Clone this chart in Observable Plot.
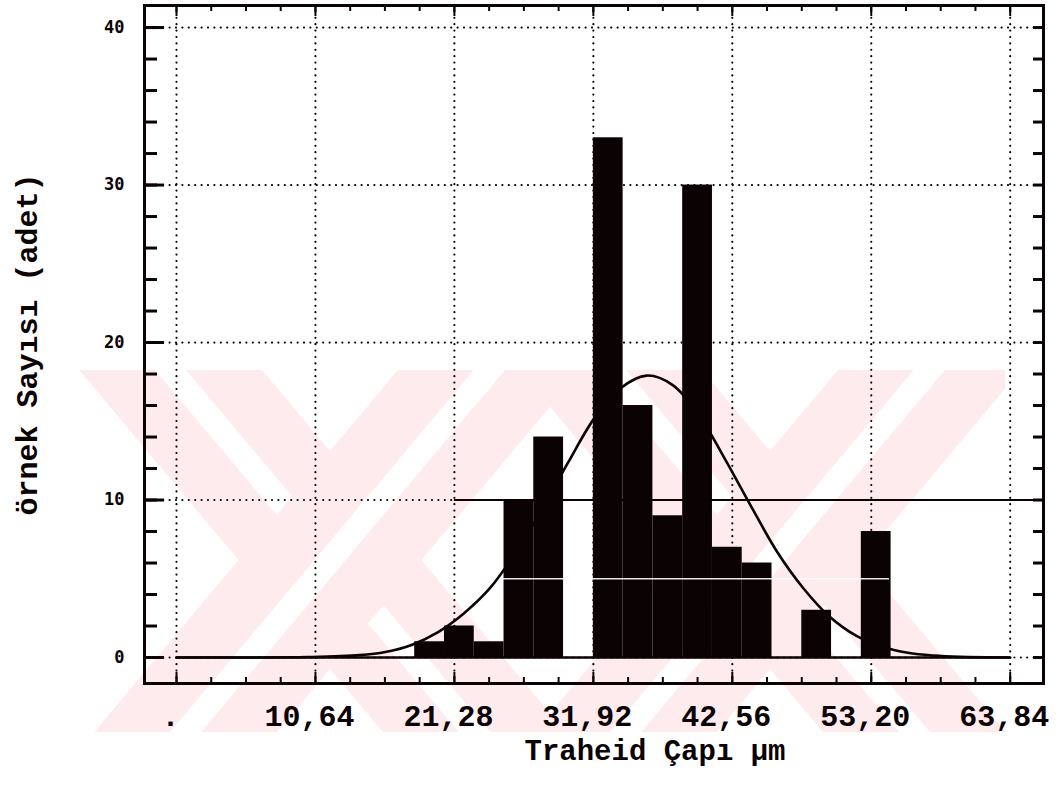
<!DOCTYPE html>
<html>
<head>
<meta charset="utf-8">
<script src="https://cdn.jsdelivr.net/npm/d3@7"></script>
<script src="https://cdn.jsdelivr.net/npm/@observablehq/plot@0.6"></script>
<style>
  html, body { margin: 0; padding: 0; background: #ffffff; }
  #wrap { position: relative; width: 1060px; height: 789px; overflow: hidden; }
  #wm { position: absolute; left: 0; top: 0; }
  #chart { position: absolute; left: 0; top: 0; }
</style>
</head>
<body>
<div id="wrap">
  <svg id="wm" width="1060" height="789"></svg>
  <div id="chart"></div>
</div>
<script>
// ---- data ----
const binWidth = 2.28;
const binLeft = [18.24, 20.52, 22.80, 25.08, 27.36, 29.64, 31.92, 34.20, 36.48, 38.76, 41.04, 43.32, 45.60, 47.88, 50.16, 52.44];
const counts  = [1, 2, 1, 10, 14, 0, 33, 16, 9, 30, 7, 6, 0, 3, 0, 8];

// fitted normal curve
const curveX = [0, 6, 10, 14, 16, 18, 20, 22, 24, 26, 28, 30, 32, 34, 36, 38, 40, 42, 44, 46, 48, 50, 52, 54, 56, 58, 60, 63.84];
const curveY = [0, 0, 0.03, 0.15, 0.35, 0.8, 1.6, 2.8, 4.4, 6.7, 9.4, 12.4, 15.2, 17.1, 17.9, 17.3, 15.4, 12.6, 9.6, 6.7, 4.4, 2.6, 1.4, 0.7, 0.3, 0.12, 0.04, 0];

const xTicks = [0, 10.64, 21.28, 31.92, 42.56, 53.20, 63.84];
const xTickLabels = [".", "10,64", "21,28", "31,92", "42,56", "53,20", "63,84"];
const xMinor = d3.range(0, 25).map(k => +(k * 2.66).toFixed(2));
const yTicks = [0, 10, 20, 30, 40];
const yTickLabels = ["0", "10", "20", "30", "40"];
const yMinor = d3.range(0, 42, 2);

const xTitle = "Traheid Çapı µm";
const yTitle = "örnek Sayısı (adet)";

// ---- tables ----
const bars = binLeft.map((x, i) => ({x1: x, x2: x + binWidth, count: counts[i]}));
const curve = curveX.map((x, i) => ({x, y: curveY[i]}));

const W = 1060, H = 789;
const mL = 144, mR = 17, mT = 5, mB = 106;
const fw = W - mL - mR, fh = H - mT - mB;
const ink = "#0b0204";
const mono = "'Liberation Mono', 'DejaVu Sans Mono', monospace";

const chart = Plot.plot({
  width: W, height: H,
  marginLeft: mL, marginRight: mR, marginTop: mT, marginBottom: mB,
  style: {background: "transparent", overflow: "visible"},
  x: {domain: [-2.45, 66.39], axis: null},
  y: {domain: [-1.65, 41.4], axis: null},
  marks: [
    // dotted grid
    Plot.ruleY(yTicks, {y: d => d, stroke: ink, strokeWidth: 2.2, strokeDasharray: "0,6.4", strokeLinecap: "round"}),
    Plot.ruleX(xTicks, {x: d => d, stroke: ink, strokeWidth: 2.2, strokeDasharray: "0,6.4", strokeLinecap: "round"}),
    // bars
    Plot.rectY(bars, {x1: "x1", x2: "x2", y1: 0, y2: "count", fill: ink}),
    // solid line at 10 (scan artefact over right half)
    Plot.ruleY([10], {x1: 21.28, x2: 66.39, stroke: ink, strokeWidth: 2}),
    Plot.ruleY([5], {x1: 24.7, x2: 54.6, stroke: "#ffffff", strokeWidth: 1.6, strokeOpacity: 0.9}),
    // baseline
    Plot.ruleY([0], {x1: 0, x2: 63.84, stroke: ink, strokeWidth: 2.5}),
    // normal curve
    Plot.line(curve, {x: "x", y: "y", stroke: ink, strokeWidth: 2.6, curve: "catmull-rom"}),
    // frame
    Plot.frame({stroke: ink, strokeWidth: 3}),
    // ticks on bottom and top
    Plot.tickX(xMinor, {x: d => d, stroke: ink, strokeWidth: 2, insetTop: fh - 6}),
    Plot.tickX(xTicks, {x: d => d, stroke: ink, strokeWidth: 2, insetTop: fh - 11}),
    Plot.tickX(xMinor, {x: d => d, stroke: ink, strokeWidth: 2, insetBottom: fh - 6}),
    Plot.tickX(xTicks, {x: d => d, stroke: ink, strokeWidth: 2, insetBottom: fh - 11}),
    // ticks on left and right
    Plot.tickY(yMinor, {y: d => d, stroke: ink, strokeWidth: 3, insetRight: fw - 13}),
    Plot.tickY(yTicks, {y: d => d, stroke: ink, strokeWidth: 3, insetRight: fw - 20}),
    Plot.tickY(yMinor, {y: d => d, stroke: ink, strokeWidth: 3, insetLeft: fw - 10}),
    // tick labels
    Plot.text(yTicks, {y: d => d, text: (d, i) => yTickLabels[i], frameAnchor: "left", dx: -20, textAnchor: "end",
      fontFamily: "'DejaVu Sans Mono', monospace", fontWeight: "bold", fontSize: 17, fill: ink}),
    Plot.text(xTicks, {x: d => d, text: (d, i) => xTickLabels[i], frameAnchor: "bottom", dx: -6, dy: 33, lineAnchor: "middle",
      fontFamily: mono, fontWeight: "bold", fontSize: 30, fill: ink}),
    // axis titles
    Plot.text([xTitle], {text: d => d, frameAnchor: "bottom", dx: 61, dy: 67, lineAnchor: "middle",
      fontFamily: mono, fontWeight: "bold", fontSize: 29, fill: ink}),
    Plot.text([yTitle], {text: d => d, frameAnchor: "left", dx: -117, rotate: -90, textAnchor: "middle", lineAnchor: "middle",
      fontFamily: mono, fontWeight: "bold", fontSize: 30, fill: ink})
  ]
});
document.getElementById("chart").appendChild(chart);

// ---- faint watermark (decoration behind the chart) ----
const wm = d3.select("#wm");
const clip = wm.append("defs").append("clipPath").attr("id", "wmclip");
clip.append("rect").attr("x", 60).attr("y", 370).attr("width", 945).attr("height", 362);
const g = wm.append("g").attr("clip-path", "url(#wmclip)");
const pink = "#fdebee";
[[330, 560], [770, 560]].forEach(([cx, cy]) => {
  [50, -50].forEach(a => {
    const band = g.append("g").attr("transform", `translate(${cx},${cy}) rotate(${a})`);
    band.append("rect").attr("x", -450).attr("y", -70).attr("width", 900).attr("height", 140).attr("fill", pink);
    band.append("rect").attr("x", -450).attr("y", -12).attr("width", 900).attr("height", 24).attr("fill", "#ffffff");
  });
});
</script>
</body>
</html>
